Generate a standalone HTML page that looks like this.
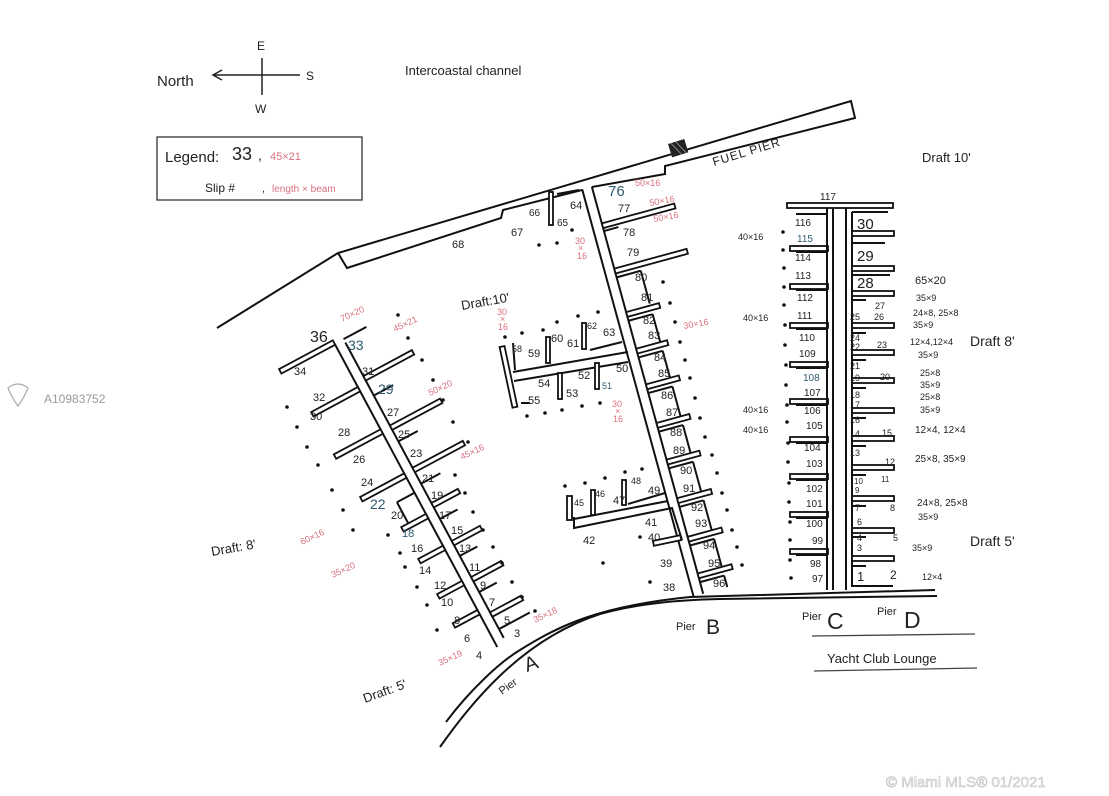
<!DOCTYPE html>
<html><head><meta charset="utf-8"><style>
html,body{margin:0;padding:0;background:#fff;}
svg{display:block;}
text{font-family:"Liberation Sans",sans-serif;fill:#222;}
.n{font-size:11px;}
.p{font-size:9px;fill:#d9707e;}
.b{fill:#2d5a6e;}
.f{fill:#fff;stroke:#111;stroke-width:1.8;}
.l{fill:none;stroke:#111;stroke-width:2;}
</style></head><body>
<svg width="1109" height="796" viewBox="0 0 1109 796" xmlns="http://www.w3.org/2000/svg">
<rect width="1109" height="796" fill="#fff"/>
<!-- compass -->
<line x1="262" y1="58" x2="262" y2="95" stroke="#222" stroke-width="1.5"/>
<line x1="214" y1="75" x2="300" y2="75" stroke="#222" stroke-width="1.5"/>
<polyline points="222,70 213,75 222,80" fill="none" stroke="#222" stroke-width="1.5"/>
<text x="257" y="50" font-size="12">E</text>
<text x="255" y="113" font-size="12">W</text>
<text x="157" y="86" font-size="15">North</text>
<text x="306" y="80" font-size="12">S</text>
<text x="405" y="75" font-size="13">Intercoastal channel</text>
<!-- legend -->
<rect x="157" y="137" width="205" height="63" fill="none" stroke="#333" stroke-width="1.3"/>
<text x="165" y="162" font-size="15">Legend:</text>
<text x="232" y="160" font-size="18">33</text>
<text x="258" y="160" font-size="14">,</text>
<text x="270" y="160" font-size="11" fill="#d9707e" style="fill:#d9707e">45×21</text>
<text x="205" y="192" font-size="12">Slip #</text>
<text x="262" y="192" font-size="11">,</text>
<text x="272" y="192" font-size="10" style="fill:#d9707e">length × beam</text>

<!-- fuel pier -->
<polyline class="l" points="217,328 338,253 851,101 855,118 665,166 665,174 592,187"/>
<polyline class="l" points="582,190 503,210 501,218 347,268 338,253"/>
<g transform="translate(668,144) rotate(-17)"><rect width="17" height="14" fill="#222"/><line x1="3" y1="0" x2="10" y2="14" stroke="#888"/><line x1="8" y1="0" x2="15" y2="14" stroke="#888"/></g>
<text transform="translate(714,166) rotate(-17)" font-size="12" letter-spacing="1">FUEL PIER</text>
<text x="452" y="248" class="n">68</text>
<text x="922" y="162" font-size="13">Draft 10'</text>

<!-- bottom walkway -->
<path class="l" d="M440,747 C470,705 520,640 600,614 C640,603 680,600 720,599 L937,596"/>
<path class="l" d="M446,722 C470,690 500,662 520,650 C560,625 600,606 690,597 L935,590"/>

<!-- Pier A -->
<g transform="translate(341,345) rotate(-28.2)">
<line class="l" x1="-5" y1="-4" x2="-5" y2="340"/>
<line class="l" x1="5" y1="0" x2="5" y2="335"/>
<rect class="f" x="-66" y="-8" width="61" height="5"/>
<line class="l" x1="5" y1="-4" x2="31" y2="-4"/>
<rect class="f" x="-58" y="45" width="53" height="5"/>
<rect class="f" x="-58" y="93" width="53" height="5"/>
<rect class="f" x="-55" y="143" width="50" height="5"/>
<rect class="f" x="-33" y="189" width="28" height="5"/>
<rect class="f" x="-33" y="225" width="28" height="5"/>
<rect class="f" x="-33" y="265" width="28" height="5"/>
<rect class="f" x="-33" y="298" width="28" height="5"/>
<rect class="f" x="5" y="38" width="55" height="5"/>
<rect class="f" x="5" y="94" width="57" height="5"/>
<rect class="f" x="5" y="142" width="57" height="5"/>
<rect class="f" x="5" y="182" width="30" height="5"/>
<rect class="f" x="5" y="225" width="32" height="5"/>
<rect class="f" x="5" y="266" width="34" height="5"/>
<rect class="f" x="5" y="306" width="35" height="5"/>
<line class="l" x1="5" y1="60" x2="27" y2="60"/>
<line class="l" x1="5" y1="112" x2="27" y2="112"/>
<line class="l" x1="5" y1="160" x2="27" y2="160"/>
<line class="l" x1="5" y1="200" x2="25" y2="200"/>
<line class="l" x1="5" y1="242" x2="25" y2="242"/>
<line class="l" x1="5" y1="283" x2="25" y2="283"/>
<line class="l" x1="5" y1="325" x2="40" y2="325"/>
<line class="l" x1="-5" y1="165" x2="-25" y2="165"/>
<line class="l" x1="-25" y1="165" x2="-25" y2="189"/>
</g>
<g class="n">
<text x="310" y="342" font-size="16">36</text><text x="348" y="350" font-size="14" class="b">33</text>
<text x="294" y="375">34</text><text x="362" y="375">31</text><text x="313" y="401">32</text><text x="378" y="394" font-size="14" class="b">29</text>
<text x="310" y="420">30</text><text x="387" y="416">27</text><text x="338" y="436">28</text><text x="398" y="438">25</text>
<text x="353" y="463">26</text><text x="410" y="457">23</text><text x="361" y="486">24</text><text x="422" y="482">21</text>
<text x="370" y="509" font-size="14" class="b">22</text><text x="431" y="499">19</text><text x="391" y="519">20</text><text x="439" y="519">17</text>
<text x="402" y="537" class="b">18</text><text x="451" y="534">15</text><text x="411" y="552">16</text><text x="459" y="552">13</text>
<text x="419" y="574">14</text><text x="469" y="571">11</text><text x="434" y="589">12</text><text x="480" y="589">9</text>
<text x="441" y="606">10</text><text x="489" y="606">7</text><text x="454" y="624">8</text><text x="504" y="624">5</text>
<text x="464" y="642">6</text><text x="514" y="637">3</text><text x="476" y="659">4</text>
</g>
<text class="p" transform="translate(342,322) rotate(-25)">70×20</text>
<text class="p" transform="translate(395,332) rotate(-25)">45×21</text>
<text class="p" transform="translate(430,396) rotate(-25)">50×20</text>
<text class="p" transform="translate(462,460) rotate(-25)">45×16</text>
<text class="p" transform="translate(302,545) rotate(-25)">60×16</text>
<text class="p" transform="translate(333,578) rotate(-25)">35×20</text>
<text class="p" transform="translate(440,666) rotate(-25)">35×19</text>
<text class="p" transform="translate(535,623) rotate(-25)">35×18</text>
<text transform="translate(365,703) rotate(-20)" font-size="13">Draft: 5'</text>
<text transform="translate(212,556) rotate(-10)" font-size="13">Draft: 8'</text>
<text transform="translate(502,695) rotate(-35)" font-size="11">Pier</text>
<text transform="translate(527,672) rotate(-20)" font-size="20">A</text>

<!-- Pier B -->
<g transform="translate(587,188) rotate(-15.3)">
<line class="l" x1="-5" y1="0" x2="-5" y2="422"/>
<line class="l" x1="5" y1="0" x2="5" y2="422"/>
<rect class="f" x="5" y="38" width="75" height="5"/>
<rect class="f" x="5" y="85" width="75" height="5"/>
<rect class="f" x="5" y="130" width="34" height="5"/>
<rect class="f" x="5" y="168" width="32" height="5"/>
<rect class="f" x="5" y="205" width="34" height="5"/>
<rect class="f" x="5" y="245" width="34" height="5"/>
<rect class="f" x="5" y="283" width="34" height="5"/>
<rect class="f" x="5" y="323" width="35" height="5"/>
<rect class="f" x="5" y="363" width="35" height="5"/>
<rect class="f" x="5" y="401" width="35" height="5"/>
<line class="l" x1="5" y1="46" x2="20" y2="46"/>
<line class="l" x1="5" y1="94" x2="30" y2="94"/>
<line class="l" x1="30" y1="94" x2="30" y2="128"/>
<line class="l" x1="5" y1="139" x2="30" y2="139"/>
<line class="l" x1="30" y1="139" x2="30" y2="168"/>
<line class="l" x1="5" y1="177" x2="30" y2="177"/>
<line class="l" x1="30" y1="177" x2="30" y2="205"/>
<line class="l" x1="5" y1="214" x2="30" y2="214"/>
<line class="l" x1="30" y1="214" x2="30" y2="245"/>
<line class="l" x1="5" y1="254" x2="30" y2="254"/>
<line class="l" x1="30" y1="254" x2="30" y2="283"/>
<line class="l" x1="5" y1="292" x2="30" y2="292"/>
<line class="l" x1="30" y1="292" x2="30" y2="323"/>
<line class="l" x1="5" y1="332" x2="30" y2="332"/>
<line class="l" x1="30" y1="332" x2="30" y2="363"/>
<line class="l" x1="5" y1="372" x2="30" y2="372"/>
<line class="l" x1="30" y1="372" x2="30" y2="401"/>
<line class="l" x1="5" y1="410" x2="30" y2="410"/>
<line class="l" x1="30" y1="410" x2="30" y2="422"/>
</g>
<!-- Pier B left clusters -->
<rect class="f" x="549" y="192" width="4" height="33"/>
<polyline class="l" points="557,194 579,190"/>
<rect class="f" x="506" y="346" width="5" height="62" transform="rotate(-12 508 377)"/>
<polyline class="l" points="513,372 628,352"/>
<polyline class="l" points="514,381 628,362"/>
<polyline class="l" points="513,343 515,370"/>
<rect class="f" x="546" y="337" width="4" height="26"/>
<rect class="f" x="582" y="323" width="4" height="26"/>
<polyline class="l" points="590,350 622,342"/>
<rect class="f" x="558" y="373" width="4" height="26"/>
<rect class="f" x="595" y="363" width="4" height="26"/>
<polyline class="l" points="521,403 530,403"/>
<rect class="f" x="567" y="496" width="5" height="24"/>
<rect class="f" x="591" y="490" width="4" height="25"/>
<rect class="f" x="622" y="480" width="4" height="25"/>
<polyline class="l" points="574,517 574,528 672,508 682,540"/>
<polyline class="l" points="574,519 668,501"/>
<polyline class="l" points="628,504 665,493"/>
<rect class="f" x="653" y="538" width="28" height="5" transform="rotate(-12 667 540)"/>
<g class="n">
<text x="608" y="196" font-size="15" class="b">76</text><text x="618" y="212">77</text><text x="623" y="236">78</text><text x="627" y="256">79</text>
<text x="635" y="281">80</text><text x="641" y="301">81</text><text x="643" y="324">82</text><text x="648" y="339">83</text>
<text x="654" y="361">84</text><text x="658" y="377">85</text><text x="661" y="399">86</text><text x="666" y="416">87</text>
<text x="670" y="436">88</text><text x="673" y="454">89</text><text x="680" y="474">90</text><text x="683" y="492">91</text>
<text x="691" y="511">92</text><text x="695" y="527">93</text><text x="703" y="549">94</text><text x="708" y="567">95</text>
<text x="713" y="587">96</text><text x="663" y="591">38</text><text x="660" y="567">39</text><text x="648" y="541">40</text>
<text x="645" y="526">41</text><text x="583" y="544">42</text><text x="574" y="506" font-size="9">45</text><text x="595" y="497" font-size="9">46</text>
<text x="613" y="504">47</text><text x="631" y="484" font-size="9">48</text><text x="648" y="494">49</text><text x="616" y="372">50</text>
<text x="602" y="389" font-size="9" class="b">51</text><text x="578" y="379">52</text><text x="566" y="397">53</text><text x="538" y="387">54</text>
<text x="528" y="404">55</text><text x="512" y="352" font-size="9">58</text><text x="528" y="357">59</text><text x="551" y="342">60</text>
<text x="567" y="347">61</text><text x="587" y="329" font-size="9">62</text><text x="603" y="336">63</text><text x="570" y="209">64</text>
<text x="557" y="226" font-size="10">65</text><text x="529" y="216" font-size="10">66</text><text x="511" y="236">67</text>
</g>
<text class="p" x="635" y="186" font-size="8">50×16</text>
<text class="p" transform="translate(650,206) rotate(-10)">50×16</text>
<text class="p" transform="translate(654,222) rotate(-10)">50×16</text>
<text class="p" transform="translate(684,329) rotate(-10)">30×16</text>
<text class="p" x="575" y="244">30</text><text class="p" x="578" y="251">×</text><text class="p" x="577" y="259">16</text>
<text class="p" x="497" y="315">30</text><text class="p" x="500" y="322">×</text><text class="p" x="498" y="330">16</text>
<text class="p" x="612" y="407">30</text><text class="p" x="615" y="414">×</text><text class="p" x="613" y="422">16</text>
<text transform="translate(462,310) rotate(-10)" font-size="13">Draft:10'</text>
<text x="676" y="630" font-size="11">Pier</text><text x="706" y="634" font-size="21">B</text>

<!-- Pier C / D -->
<rect class="f" x="787" y="203" width="106" height="5"/>
<line class="l" x1="833" y1="208" x2="833" y2="590"/>
<line class="l" x1="846" y1="208" x2="846" y2="590"/>
<g>
<rect class="f" x="790" y="246" width="38" height="5"/>
<rect class="f" x="790" y="284" width="38" height="5"/>
<rect class="f" x="790" y="323" width="38" height="5"/>
<rect class="f" x="790" y="362" width="38" height="5"/>
<rect class="f" x="790" y="399" width="38" height="5"/>
<rect class="f" x="790" y="437" width="38" height="5"/>
<rect class="f" x="790" y="474" width="38" height="5"/>
<rect class="f" x="790" y="512" width="38" height="5"/>
<rect class="f" x="790" y="549" width="38" height="5"/>
<line class="l" x1="827" y1="208" x2="827" y2="590"/>
<line class="l" x1="796" y1="214" x2="827" y2="214"/>
<line class="l" x1="796" y1="252" x2="827" y2="252"/>
<line class="l" x1="796" y1="290" x2="827" y2="290"/>
<line class="l" x1="796" y1="329" x2="827" y2="329"/>
<line class="l" x1="796" y1="368" x2="827" y2="368"/>
<line class="l" x1="796" y1="405" x2="827" y2="405"/>
<line class="l" x1="796" y1="443" x2="827" y2="443"/>
<line class="l" x1="796" y1="480" x2="827" y2="480"/>
<line class="l" x1="796" y1="518" x2="827" y2="518"/>
<line class="l" x1="796" y1="555" x2="827" y2="555"/>
</g>
<g>
<line class="l" x1="852" y1="212" x2="852" y2="587"/>
<line class="l" x1="852" y1="212" x2="888" y2="212"/>
<rect class="f" x="852" y="231" width="42" height="5"/>
<rect class="f" x="852" y="266" width="42" height="5"/>
<rect class="f" x="852" y="291" width="42" height="5"/>
<rect class="f" x="852" y="323" width="42" height="5"/>
<rect class="f" x="852" y="350" width="42" height="5"/>
<rect class="f" x="852" y="378" width="42" height="5"/>
<rect class="f" x="852" y="408" width="42" height="5"/>
<rect class="f" x="852" y="436" width="42" height="5"/>
<rect class="f" x="852" y="465" width="42" height="5"/>
<rect class="f" x="852" y="496" width="42" height="5"/>
<rect class="f" x="852" y="528" width="42" height="5"/>
<rect class="f" x="852" y="556" width="42" height="5"/>
<line class="l" x1="852" y1="586" x2="893" y2="586"/>
<line class="l" x1="852" y1="243" x2="885" y2="243"/>
<line class="l" x1="852" y1="275" x2="890" y2="275"/>
<line class="l" x1="852" y1="300" x2="866" y2="300"/>
<line class="l" x1="852" y1="333" x2="866" y2="333"/>
<line class="l" x1="852" y1="360" x2="866" y2="360"/>
<line class="l" x1="852" y1="388" x2="866" y2="388"/>
<line class="l" x1="852" y1="418" x2="866" y2="418"/>
<line class="l" x1="852" y1="446" x2="866" y2="446"/>
<line class="l" x1="852" y1="475" x2="866" y2="475"/>
<line class="l" x1="852" y1="506" x2="866" y2="506"/>
<line class="l" x1="852" y1="537" x2="866" y2="537"/>
<line class="l" x1="852" y1="566" x2="866" y2="566"/>
</g>
<g class="n" font-size="10">
<text x="820" y="200" font-size="10">117</text>
<text x="795" y="226" font-size="10">116</text><text x="797" y="242" font-size="10" class="b">115</text>
<text x="795" y="261" font-size="10">114</text><text x="795" y="279" font-size="10">113</text>
<text x="797" y="301" font-size="10">112</text><text x="797" y="319" font-size="10">111</text>
<text x="799" y="341" font-size="10">110</text><text x="799" y="357" font-size="10">109</text>
<text x="803" y="381" font-size="10" class="b">108</text><text x="804" y="396" font-size="10">107</text>
<text x="804" y="414" font-size="10">106</text><text x="806" y="429" font-size="10">105</text>
<text x="804" y="451" font-size="10">104</text><text x="806" y="467" font-size="10">103</text>
<text x="806" y="492" font-size="10">102</text><text x="806" y="507" font-size="10">101</text>
<text x="806" y="527" font-size="10">100</text><text x="812" y="544" font-size="10">99</text>
<text x="810" y="567" font-size="10">98</text><text x="812" y="582" font-size="10">97</text>
<text x="857" y="229" font-size="15">30</text><text x="857" y="261" font-size="15">29</text><text x="857" y="288" font-size="15">28</text>
<text x="875" y="309" font-size="9">27</text><text x="850" y="320" font-size="9">25</text><text x="874" y="320" font-size="9">26</text>
<text x="850" y="341" font-size="9">24</text><text x="850" y="350" font-size="9">22</text><text x="877" y="348" font-size="9">23</text>
<text x="850" y="369" font-size="9">21</text><text x="850" y="381" font-size="9">19</text><text x="880" y="380" font-size="9">20</text>
<text x="850" y="398" font-size="9">18</text><text x="850" y="408" font-size="9">17</text><text x="850" y="423" font-size="9">16</text>
<text x="850" y="437" font-size="9">14</text><text x="882" y="436" font-size="9">15</text><text x="850" y="456" font-size="9">13</text>
<text x="885" y="465" font-size="9">12</text><text x="854" y="484" font-size="8">10</text><text x="881" y="482" font-size="8">11</text>
<text x="855" y="493" font-size="8">9</text><text x="855" y="511" font-size="9">7</text><text x="890" y="511" font-size="9">8</text>
<text x="857" y="525" font-size="9">6</text><text x="857" y="541" font-size="9">4</text><text x="893" y="541" font-size="9">5</text>
<text x="857" y="551" font-size="9">3</text><text x="857" y="581" font-size="13">1</text><text x="890" y="579" font-size="12">2</text>
</g>
<g class="p">
<text x="915" y="284" font-size="11">65×20</text><text x="916" y="301">35×9</text><text x="913" y="316">24×8, 25×8</text>
<text x="913" y="328">35×9</text><text x="910" y="345">12×4,12×4</text><text x="918" y="358">35×9</text>
<text x="920" y="376">25×8</text><text x="920" y="388">35×9</text><text x="920" y="400">25×8</text><text x="920" y="413">35×9</text>
<text x="915" y="433" font-size="10">12×4, 12×4</text><text x="915" y="462" font-size="10">25×8, 35×9</text>
<text x="917" y="506" font-size="10">24×8, 25×8</text><text x="918" y="520">35×9</text><text x="912" y="551">35×9</text><text x="922" y="580">12×4</text>
<text x="738" y="240">40×16</text><text x="743" y="321">40×16</text><text x="743" y="413">40×16</text><text x="743" y="433">40×16</text>
</g>
<text x="970" y="346" font-size="14">Draft 8'</text>
<text x="970" y="546" font-size="14">Draft 5'</text>
<text x="802" y="620" font-size="11">Pier</text><text x="827" y="629" font-size="23">C</text>
<text x="877" y="615" font-size="11">Pier</text><text x="904" y="628" font-size="23">D</text>
<line x1="812" y1="636" x2="975" y2="634" stroke="#444" stroke-width="1.3"/>
<line x1="814" y1="671" x2="977" y2="668" stroke="#444" stroke-width="1.3"/>
<text x="827" y="663" font-size="13">Yacht Club Lounge</text>

<!-- dots -->
<g fill="#111">
<circle cx="287" cy="407" r="1.8"/><circle cx="297" cy="427" r="1.8"/><circle cx="307" cy="447" r="1.8"/><circle cx="318" cy="465" r="1.8"/>
<circle cx="332" cy="490" r="1.8"/><circle cx="343" cy="510" r="1.8"/><circle cx="353" cy="530" r="1.8"/><circle cx="388" cy="535" r="1.8"/>
<circle cx="400" cy="553" r="1.8"/><circle cx="405" cy="567" r="1.8"/><circle cx="417" cy="587" r="1.8"/><circle cx="427" cy="605" r="1.8"/>
<circle cx="437" cy="630" r="1.8"/><circle cx="398" cy="315" r="1.8"/><circle cx="408" cy="338" r="1.8"/><circle cx="422" cy="360" r="1.8"/>
<circle cx="433" cy="380" r="1.8"/><circle cx="443" cy="400" r="1.8"/><circle cx="453" cy="422" r="1.8"/><circle cx="468" cy="442" r="1.8"/>
<circle cx="455" cy="475" r="1.8"/><circle cx="465" cy="493" r="1.8"/><circle cx="473" cy="512" r="1.8"/><circle cx="483" cy="530" r="1.8"/>
<circle cx="493" cy="547" r="1.8"/><circle cx="502" cy="563" r="1.8"/><circle cx="512" cy="582" r="1.8"/><circle cx="522" cy="597" r="1.8"/>
<circle cx="663" cy="282" r="1.8"/><circle cx="670" cy="303" r="1.8"/><circle cx="675" cy="322" r="1.8"/><circle cx="680" cy="342" r="1.8"/>
<circle cx="685" cy="360" r="1.8"/><circle cx="690" cy="378" r="1.8"/><circle cx="695" cy="398" r="1.8"/><circle cx="700" cy="418" r="1.8"/>
<circle cx="705" cy="437" r="1.8"/><circle cx="712" cy="455" r="1.8"/><circle cx="717" cy="473" r="1.8"/><circle cx="722" cy="493" r="1.8"/>
<circle cx="727" cy="510" r="1.8"/><circle cx="732" cy="530" r="1.8"/><circle cx="737" cy="547" r="1.8"/><circle cx="742" cy="565" r="1.8"/>
<circle cx="539" cy="245" r="1.8"/><circle cx="557" cy="243" r="1.8"/><circle cx="572" cy="230" r="1.8"/>
<circle cx="505" cy="337" r="1.8"/><circle cx="522" cy="333" r="1.8"/><circle cx="543" cy="330" r="1.8"/><circle cx="557" cy="322" r="1.8"/>
<circle cx="578" cy="316" r="1.8"/><circle cx="598" cy="312" r="1.8"/>
<circle cx="527" cy="416" r="1.8"/><circle cx="545" cy="413" r="1.8"/><circle cx="562" cy="410" r="1.8"/><circle cx="582" cy="406" r="1.8"/><circle cx="600" cy="403" r="1.8"/>
<circle cx="565" cy="486" r="1.8"/><circle cx="585" cy="483" r="1.8"/><circle cx="605" cy="478" r="1.8"/><circle cx="625" cy="472" r="1.8"/><circle cx="642" cy="469" r="1.8"/>
<circle cx="640" cy="537" r="1.8"/><circle cx="603" cy="563" r="1.8"/><circle cx="650" cy="582" r="1.8"/><circle cx="535" cy="611" r="1.8"/>
<circle cx="783" cy="232" r="1.8"/><circle cx="783" cy="250" r="1.8"/><circle cx="784" cy="268" r="1.8"/><circle cx="784" cy="287" r="1.8"/>
<circle cx="784" cy="305" r="1.8"/><circle cx="785" cy="325" r="1.8"/><circle cx="785" cy="345" r="1.8"/><circle cx="786" cy="365" r="1.8"/>
<circle cx="786" cy="385" r="1.8"/><circle cx="787" cy="405" r="1.8"/><circle cx="787" cy="422" r="1.8"/><circle cx="788" cy="443" r="1.8"/>
<circle cx="788" cy="462" r="1.8"/><circle cx="789" cy="483" r="1.8"/><circle cx="789" cy="502" r="1.8"/><circle cx="790" cy="522" r="1.8"/>
<circle cx="790" cy="540" r="1.8"/><circle cx="790" cy="560" r="1.8"/><circle cx="791" cy="578" r="1.8"/>
</g>

<!-- watermarks -->
<g stroke="#aaa" fill="none" stroke-width="1.2"><path d="M8,388 q10,-8 20,0 q-4,10 -10,18 q-6,-8 -10,-18z"/></g>
<text x="44" y="403" font-size="12" style="fill:#999">A10983752</text>
<text x="886" y="787" font-size="15" style="fill:#eee;stroke:#bbb;stroke-width:0.5">© Miami MLS® 01/2021</text>
</svg>
</body></html>
